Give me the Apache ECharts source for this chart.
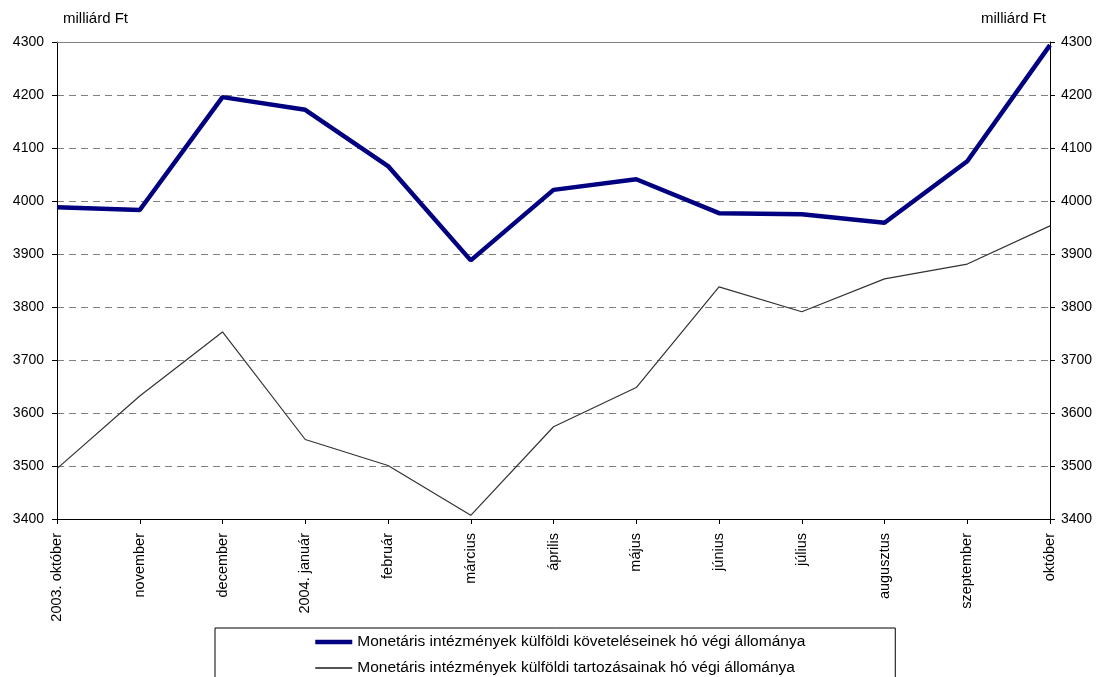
<!DOCTYPE html>
<html><head><meta charset="utf-8">
<script src="https://cdn.jsdelivr.net/npm/echarts@6/dist/echarts.min.js"></script>
<style>html,body{margin:0;padding:0;background:#fff}#c{width:1098px;height:677px}</style>
</head><body><div id="c"></div>
<script>
var categories = ['2003. október','november','december','2004. január','február','március','április','május','június','július','augusztus','szeptember','október'];
var koveteles = [3988,3983,4196,4172,4066,3888,4021,4041,3977,3975,3959,4075,4294];
var tartozas = [3495,3632,3753,3550,3501,3407,3574,3648,3838,3791,3853,3881,3953];
var seriesNames = ['Monetáris intézmények külföldi követeléseinek hó végi állománya','Monetáris intézmények külföldi tartozásainak hó végi állománya'];
var unitLabel = 'milliárd Ft';
var yMin = 3400, yMax = 4300, yStep = 100;

var font = 'Liberation Sans, Arial, sans-serif';
var chart = echarts.init(document.getElementById('c'));
var yLabelFmt = function (v) { return String(v); };
chart.setOption({
  animation:false,
  textStyle:{fontFamily:font},
  grid:{left:57,right:48,top:42,bottom:158},
  legend:{
    left:215, top:628, orient:'vertical', height:80,
    data:[
      {name:seriesNames[0], lineStyle:{width:4.5,color:'#000080'}},
      {name:seriesNames[1], lineStyle:{width:1.3,color:'#1a1a1a'}}
    ],
    itemWidth:37, itemHeight:16, itemGap:10,
    itemStyle:{opacity:0},
    padding:[6,90,20,98],
    borderColor:'#000', borderWidth:1,
    textStyle:{fontFamily:font,fontSize:15.5,color:'#000'}
  },
  xAxis:[{
    type:'category', data:categories, boundaryGap:false,
    axisLine:{lineStyle:{color:'#000',width:1}},
    axisTick:{show:true,inside:false,length:5,lineStyle:{color:'#000'}},
    axisLabel:{rotate:90,fontSize:14.5,color:'#000',fontFamily:font,margin:14,interval:0},
    splitLine:{show:false}
  },{
    type:'category', data:categories, boundaryGap:false, position:'top',
    axisLine:{lineStyle:{color:'#808080',width:1}},
    axisTick:{show:false}, axisLabel:{show:false}, splitLine:{show:false}
  }],
  yAxis:[{
    type:'value', min:yMin, max:yMax, interval:yStep, position:'left',
    name:unitLabel, nameLocation:'end', nameGap:16,
    nameTextStyle:{fontSize:15,color:'#000',fontFamily:font,align:'left',padding:[0,0,0,6]},
    axisLine:{show:true,lineStyle:{color:'#000'}},
    axisTick:{show:true,length:5,lineStyle:{color:'#000'}},
    axisLabel:{fontSize:14,color:'#000',fontFamily:font,margin:13,formatter:yLabelFmt},
    splitLine:{show:true,lineStyle:{color:'#808080',type:[7,5],width:1}}
  },{
    type:'value', min:yMin, max:yMax, interval:yStep, position:'right',
    name:unitLabel, nameLocation:'end', nameGap:16,
    nameTextStyle:{fontSize:15,color:'#000',fontFamily:font,align:'right',padding:[0,4,0,0]},
    axisLine:{show:true,lineStyle:{color:'#000'}},
    axisTick:{show:true,length:5,lineStyle:{color:'#000'}},
    axisLabel:{fontSize:14,color:'#000',fontFamily:font,margin:11,formatter:yLabelFmt},
    splitLine:{show:false}
  }],
  series:[{
    name:seriesNames[0], type:'line', data:koveteles, symbol:'none',
    lineStyle:{color:'#000080',width:4.5}, itemStyle:{color:'#000080'}
  },{
    name:seriesNames[1], type:'line', data:tartozas, symbol:'none',
    lineStyle:{color:'#333333',width:1.2}, itemStyle:{color:'#333333'}
  }]
});
</script></body></html>
